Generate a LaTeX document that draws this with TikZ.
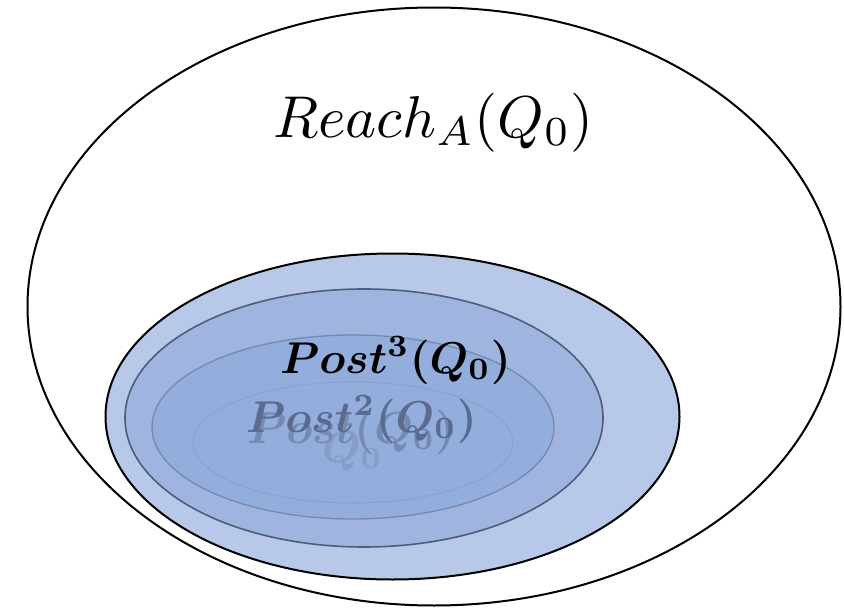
\documentclass[tikz,border=0pt]{standalone}
\usepackage{amsmath}
\usepackage{graphicx}
\usetikzlibrary{shapes.geometric}
\definecolor{fillA}{HTML}{B7C8E8}
\definecolor{fillB}{HTML}{9FB5E0}
\definecolor{fillC}{HTML}{93ADDD}
\definecolor{lineB}{HTML}{4E5D7B}
\definecolor{lineC}{HTML}{7589AE}
\definecolor{lineD}{HTML}{8CA2CC}
\definecolor{txtB}{HTML}{5A6B8F}
\definecolor{txtC}{HTML}{7589B2}
\definecolor{txtD}{HTML}{879DC8}
\newcommand{\mybigmath}[1]{\scalebox{5.9}{$#1$}}
\newcommand{\mymidmath}[1]{\scalebox{4.45}{\boldmath$#1$}}
\tikzset{
  oval/.style={ellipse, inner sep=0pt, outer sep=0pt},
  lbl/.style={inner sep=0pt, outer sep=0pt, anchor=base west},
}
\begin{document}
\begin{tikzpicture}[x=1pt,y=-1pt]
\useasboundingbox (0,0) rectangle (844,610);
\node[oval, draw=black, line width=2pt, minimum width=813pt, minimum height=598pt] (reach) at (434,306.5) {};
\node[oval, draw=black, fill=fillA, line width=2pt, minimum width=574pt, minimum height=326pt] (e1) at (392.5,416.5) {};
\node[oval, draw=lineB, fill=fillB, line width=1.6pt, minimum width=478pt, minimum height=258pt] (e2) at (364,418) {};
\node[oval, draw=lineC, fill=fillC, line width=1.3pt, minimum width=402pt, minimum height=184pt] (e3) at (353,427) {};
\node[oval, draw=lineD, line width=1.1pt, minimum width=320pt, minimum height=121pt] (e4) at (353,442.5) {};
\node[lbl] (treach) at (273,137) {\mybigmath{Reach_A(Q_0)}};
\node[lbl, text=txtD] (tq) at (322,462) {\mymidmath{Q_0}};
\node[lbl, text=txtC] (tpost1) at (247,443) {\mymidmath{Post(Q_0)}};
\node[lbl, text=txtB] (tpost2) at (246,432) {\mymidmath{Post^{2}(Q_0)}};
\node[lbl, text=black] (tpost3) at (280,373) {\mymidmath{Post^{3}(Q_0)}};
\end{tikzpicture}
\end{document}
